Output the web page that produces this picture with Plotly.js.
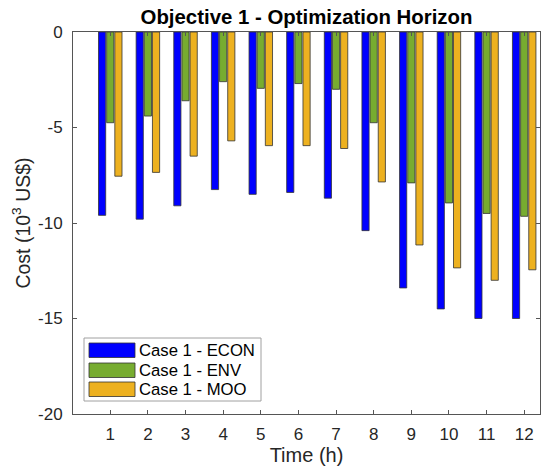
<!DOCTYPE html>
<html>
<head>
<meta charset="utf-8">
<script src="https://cdn.plot.ly/plotly-3.0.1.min.js"></script>
<style>html,body{margin:0;padding:0;background:#fff;}#chart{width:542px;height:469px;}</style>
</head>
<body>
<div id="chart"></div>
<script>
// Data
const hours = [1,2,3,4,5,6,7,8,9,10,11,12];
const seriesNames = ['Case 1 - ECON', 'Case 1 - ENV', 'Case 1 - MOO'];
const econ = [-9.6, -9.8, -9.1, -8.25, -8.5, -8.4, -8.7, -10.4, -13.4, -14.5, -15.0, -15.0];
const env  = [-4.75, -4.4, -3.6, -2.6, -2.95, -2.7, -3.0, -4.75, -7.9, -8.95, -9.5, -9.65];
const moo  = [-7.55, -7.35, -6.5, -5.7, -5.95, -5.95, -6.1, -7.85, -11.15, -12.35, -13.0, -12.45];
const colors = ['#0000FF', '#77AC30', '#EDB120'];
const yTicks = [0, -5, -10, -15, -20];

const font = 'Liberation Sans, Arial, Helvetica, sans-serif';
const allVals = [econ, env, moo];

const traces = allVals.map((v, i) => ({
  type: 'bar',
  x: hours,
  y: v,
  name: seriesNames[i],
  marker: {color: colors[i], line: {color: '#333333', width: 0.8}},
  showlegend: false,
  hoverinfo: 'x+y+name'
}));

// manual legend (MATLAB style, wide swatches)
const W = 467, H = 382, L = 73, T = 32;
const px = v => (v - L) / W;
const py = v => (T + H - v) / H;
const shapes = [
  {type:'rect', xref:'paper', yref:'paper', x0:px(84), x1:px(261), y0:py(401), y1:py(338),
   line:{color:'#a0a0a0', width:1}, fillcolor:'#ffffff', layer:'above'}
];
const annotations = [];
const swTop = [343, 363, 382];
seriesNames.forEach((n, i) => {
  shapes.push({type:'rect', xref:'paper', yref:'paper', x0:px(89), x1:px(135),
    y0:py(swTop[i] + 14.5), y1:py(swTop[i]), line:{color:'#333333', width:0.8},
    fillcolor: colors[i], layer:'above'});
  annotations.push({xref:'paper', yref:'paper', x:px(137), y:py(swTop[i] + 7.5),
    xanchor:'left', yanchor:'middle', text:n, showarrow:false,
    font:{family:font, size:16.7, color:'#000000'}});
});

const layout = {
  width: 542, height: 469,
  margin: {l: L, r: 542 - L - W, t: T, b: 469 - T - H, pad: 0},
  paper_bgcolor: '#ffffff', plot_bgcolor: '#ffffff',
  font: {family: font, color: '#262626'},
  title: {text: '<b>Objective 1 - Optimization Horizon</b>', xref: 'paper', x: 0.5,
          yref: 'container', y: 1 - 17/469, yanchor: 'middle',
          font: {family: font, size: 20.4, color: '#000000'}},
  barmode: 'group',
  bargap: 0.35,
  bargroupgap: 0.12,
  xaxis: {
    range: [0.01, 12.42],
    tickvals: hours,
    ticktext: hours.map(String),
    ticks: 'inside', ticklen: 4, tickcolor: '#555555', tickwidth: 1,
    showline: true, linecolor: '#555555', linewidth: 1, mirror: 'ticks',
    showgrid: false, zeroline: false,
    ticklabelstandoff: 5,
    tickfont: {family: font, size: 17, color: '#262626'},
    title: {text: 'Time (h)', font: {family: font, size: 20, color: '#262626'}, standoff: 4}
  },
  yaxis: {
    range: [-20, 0],
    tickvals: yTicks,
    ticktext: yTicks.map(String),
    ticks: 'inside', ticklen: 4, tickcolor: '#555555', tickwidth: 1,
    showline: true, linecolor: '#555555', linewidth: 1, mirror: 'ticks',
    showgrid: false, zeroline: false,
    ticklabelstandoff: 6,
    tickfont: {family: font, size: 17, color: '#262626'},
    title: {text: 'Cost (10<sup>3</sup> US$)', font: {family: font, size: 19.5, color: '#262626'}, standoff: 2}
  },
  shapes: shapes,
  annotations: annotations
};

Plotly.newPlot('chart', traces, layout, {displayModeBar: false, staticPlot: true});
</script>
</body>
</html>
